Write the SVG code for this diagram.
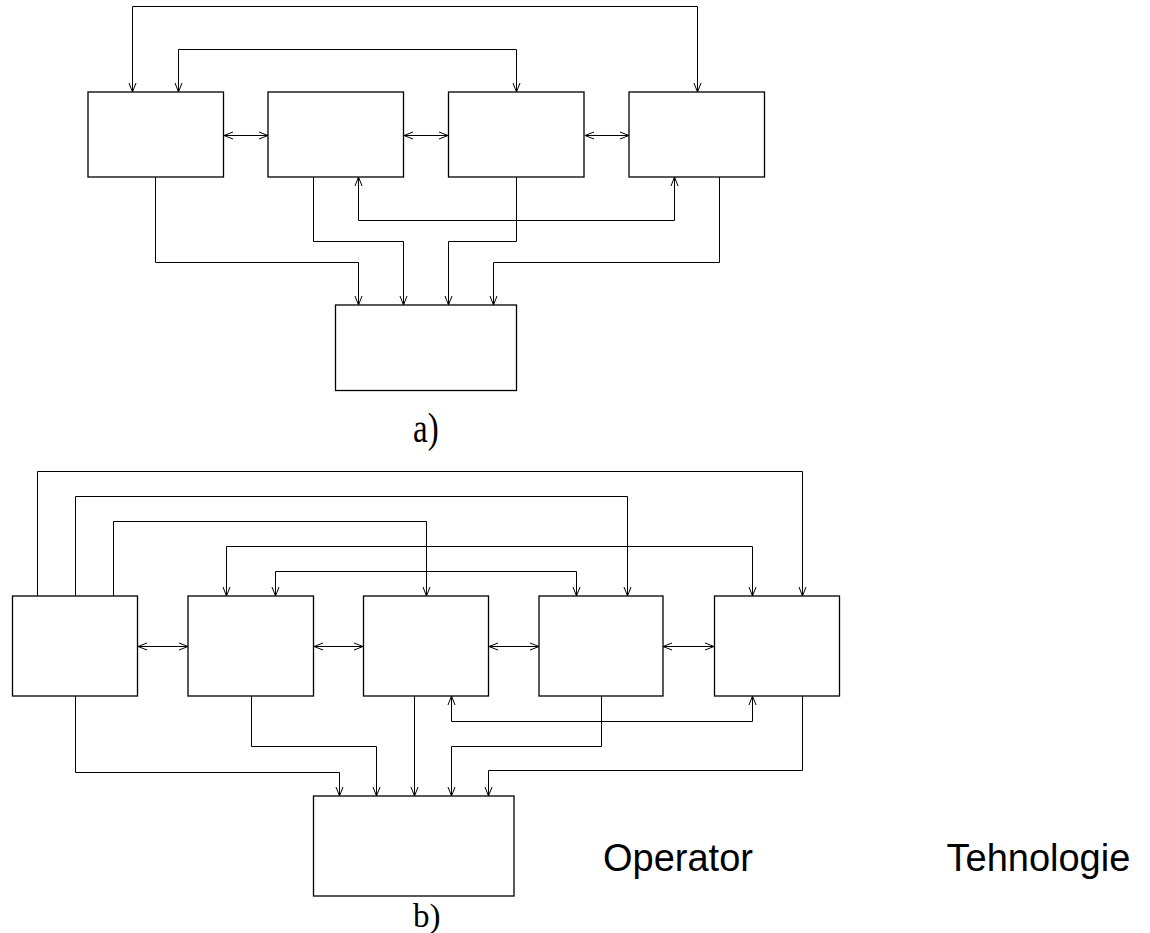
<svg xmlns="http://www.w3.org/2000/svg" width="1150" height="933" viewBox="0 0 1150 933">
<style>
.box{fill:#fff;stroke:#000;stroke-width:1.3}
.ln{fill:none;stroke:#000;stroke-width:1}
.a1{marker-end:url(#ah)}
.a2{marker-start:url(#ah);marker-end:url(#ah)}
.cap{font-family:"Liberation Serif","Times New Roman",serif;font-size:33px;fill:#000}
.lbl{font-family:"Liberation Sans",Arial,sans-serif;font-size:38px;fill:#000}
</style>
<defs>
<marker id="ah" markerUnits="userSpaceOnUse" markerWidth="12" markerHeight="10" viewBox="-10 -5 12 10" refX="0" refY="0" orient="auto-start-reverse" overflow="visible">
<path d="M-9,-3.5 L0,0 L-9,3.5" fill="none" stroke="#000" stroke-width="1"/>
</marker>
</defs>
<rect width="1150" height="933" fill="#fff"/>
<g id="connectors">
<!-- a) -->
<path class="ln a2" d="M132.5,92 V6.5 H697.5 V92"/>
<path class="ln a2" d="M178.5,92 V49.5 H516.5 V92"/>
<path class="ln a2" d="M224,135.5 H268"/>
<path class="ln a2" d="M404,135.5 H448"/>
<path class="ln a2" d="M585,135.5 H629"/>
<path class="ln a1" d="M155.5,177 V262.5 H358.5 V305"/>
<path class="ln a1" d="M313.5,177 V241.5 H403.5 V305"/>
<path class="ln a1" d="M516.5,177 V241.5 H448.5 V305"/>
<path class="ln a1" d="M719.5,177 V262.5 H493.5 V305"/>
<path class="ln a2" d="M358.5,177 V220.5 H674.5 V177"/>
<!-- b) -->
<path class="ln a1" d="M37.5,596 V471.5 H802.5 V596"/>
<path class="ln a1" d="M75.5,596 V496.5 H627.5 V596"/>
<path class="ln a1" d="M113.5,596 V521.5 H426.5 V596"/>
<path class="ln a2" d="M226.5,596 V546.5 H752.5 V596"/>
<path class="ln a2" d="M275.5,596 V571.5 H576.5 V596"/>
<path class="ln a2" d="M138,646.5 H188"/>
<path class="ln a2" d="M314,646.5 H363"/>
<path class="ln a2" d="M489,646.5 H539"/>
<path class="ln a2" d="M663,646.5 H714"/>
<path class="ln a1" d="M75.5,696 V772.5 H339.5 V796"/>
<path class="ln a1" d="M251.5,696 V746.5 H376.5 V796"/>
<path class="ln a1" d="M414.5,696 V796"/>
<path class="ln a1" d="M601.5,696 V746.5 H451.5 V796"/>
<path class="ln a1" d="M802.5,696 V770.5 H488.5 V796"/>
<path class="ln a2" d="M451.5,696 V721.5 H752.5 V696"/>
</g>
<g id="a-box1"><rect class="box" x="88" y="92" width="135.5" height="85"/></g>
<g id="a-box2"><rect class="box" x="268" y="92" width="135.5" height="85"/></g>
<g id="a-box3"><rect class="box" x="448.5" y="92" width="135.5" height="85"/></g>
<g id="a-box4"><rect class="box" x="629" y="92" width="135.5" height="85"/></g>
<g id="a-box5"><rect class="box" x="335.5" y="305" width="181" height="85.5"/></g>
<g id="b-box1"><rect class="box" x="12.5" y="596" width="125" height="100"/></g>
<g id="b-box2"><rect class="box" x="188" y="596" width="125.5" height="100"/></g>
<g id="b-box3"><rect class="box" x="363.5" y="596" width="125" height="100"/></g>
<g id="b-box4"><rect class="box" x="539" y="596" width="124" height="100"/></g>
<g id="b-box5"><rect class="box" x="714.5" y="596" width="125" height="100"/></g>
<g id="b-box6"><rect class="box" x="313.5" y="796" width="200.5" height="100"/></g>
<g id="captions">
<text class="cap" transform="translate(413,442) scale(1,1.3)">a)</text>
<text class="cap" transform="translate(413,927) scale(1,1.0)">b)</text>
</g>
<g id="labels">
<text class="lbl" x="603" y="870.5">Operator</text>
<text class="lbl" x="946.5" y="870.5">Tehnologie</text>
</g>
</svg>
